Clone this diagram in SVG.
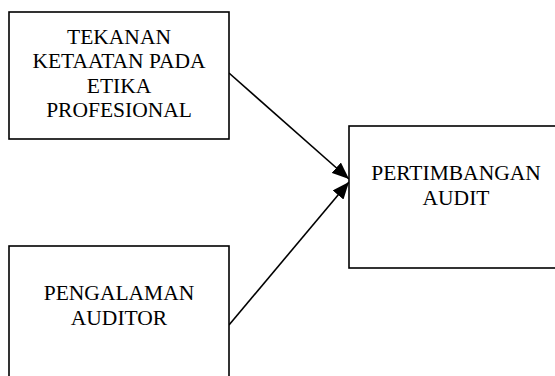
<svg xmlns="http://www.w3.org/2000/svg" width="555" height="376" viewBox="0 0 555 376">
<style>
.box{fill:#fff;stroke:#000;stroke-width:1.6}
.c{stroke:#000;stroke-width:1.6;fill:none;marker-end:url(#ah)}
</style>
<defs>
<marker id="ah" markerUnits="userSpaceOnUse" markerWidth="18" markerHeight="14" refX="17" refY="7" orient="auto">
<path d="M0,0 L17,7 L0,14 Z" fill="#000"/>
</marker>
</defs>
<rect width="555" height="376" fill="#fff"/>
<g id="connectors">
<line class="c" x1="229" y1="73" x2="349" y2="179"/>
<line class="c" x1="229" y1="325" x2="349" y2="182"/>
</g>
<g id="tekanan">
<rect class="box" x="9" y="12" width="220" height="127"/>
<text font-family="Liberation Serif" font-size="21.5" text-anchor="middle" x="119" y="43.5">TEKANAN</text>
<text font-family="Liberation Serif" font-size="21.5" text-anchor="middle" x="119" y="68">KETAATAN PADA</text>
<text font-family="Liberation Serif" font-size="21.5" text-anchor="middle" x="119" y="92.5">ETIKA</text>
<text font-family="Liberation Serif" font-size="21.5" text-anchor="middle" x="119" y="117">PROFESIONAL</text>
</g>
<g id="pengalaman">
<rect class="box" x="9" y="246" width="220" height="140"/>
<text font-family="Liberation Serif" font-size="21.5" text-anchor="middle" x="119" y="300">PENGALAMAN</text>
<text font-family="Liberation Serif" font-size="21.5" text-anchor="middle" x="119" y="325">AUDITOR</text>
</g>
<g id="pertimbangan">
<rect class="box" x="349" y="126" width="216" height="142"/>
<text font-family="Liberation Serif" font-size="21.5" text-anchor="middle" x="456" y="180">PERTIMBANGAN</text>
<text font-family="Liberation Serif" font-size="21.5" text-anchor="middle" x="456" y="205">AUDIT</text>
</g>
</svg>
